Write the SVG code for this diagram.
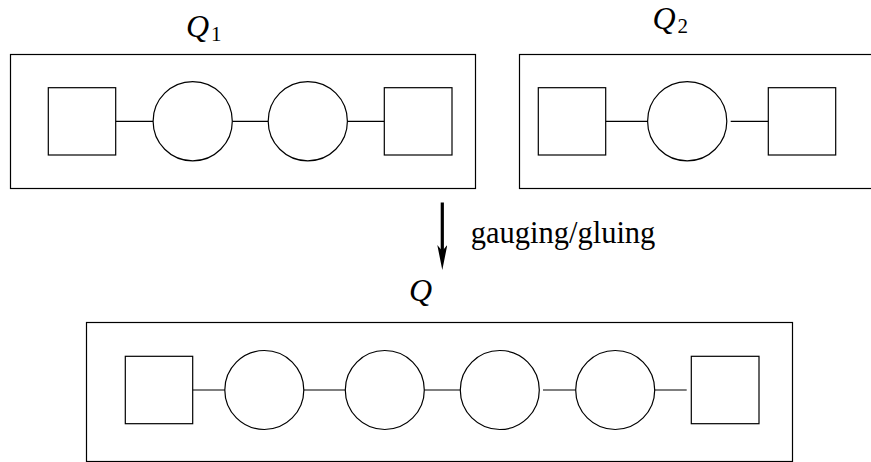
<svg xmlns="http://www.w3.org/2000/svg" width="871" height="462" viewBox="0 0 871 462">
<style>
.box{fill:none;stroke:#000;stroke-width:1.2}
.sq,.ci{fill:#fff;stroke:#000;stroke-width:1.2}
.ln{stroke:#000;stroke-width:1.2;fill:none}
.lbl{font-family:"Liberation Serif",serif;font-style:italic;font-size:32px;fill:#000}
.sub{font-family:"Liberation Serif",serif;font-style:normal;font-size:21px;fill:#000}
.txt{font-family:"Liberation Serif",serif;font-size:30.5px;fill:#000}
</style>
<defs>
<marker id="ah" markerUnits="userSpaceOnUse" markerWidth="25" markerHeight="10" viewBox="0 -5 25 10" refX="6" refY="0" orient="auto">
<path d="M0,-5 L25,0 L0,5 L6,0 Z" fill="#000"/>
</marker>
</defs>
<g id="connectors">
<line class="ln" x1="115.7" y1="121.3" x2="153" y2="121.3"/>
<line class="ln" x1="232.3" y1="121.3" x2="268.3" y2="121.3"/>
<line class="ln" x1="347.3" y1="121.3" x2="384.3" y2="121.3"/>
<line class="ln" x1="605.7" y1="121.3" x2="647.7" y2="121.3"/>
<line class="ln" x1="730.7" y1="121.3" x2="768.3" y2="121.3"/>
<line class="ln" x1="192.7" y1="390" x2="225" y2="390"/>
<line class="ln" x1="303.7" y1="390" x2="345.3" y2="390"/>
<line class="ln" x1="424.3" y1="390" x2="460.3" y2="390"/>
<line class="ln" x1="543" y1="390" x2="575.7" y2="390"/>
<line class="ln" x1="654.7" y1="390" x2="686.7" y2="390"/>
<line x1="442.3" y1="202.5" x2="442.3" y2="251" stroke="#000" stroke-width="3.2" marker-end="url(#ah)"/>
</g>
<g id="Q1">
<rect class="box" x="10.5" y="54.5" width="465" height="134"/>
<text class="lbl" x="186" y="37">Q<tspan class="sub" dx="2" dy="4">1</tspan></text>
<rect class="sq" x="48.3" y="87.7" width="67.4" height="67.3"/>
<circle class="ci" cx="192.7" cy="121.2" r="39.6"/>
<circle class="ci" cx="307.8" cy="121.2" r="39.6"/>
<rect class="sq" x="384.3" y="87.7" width="67.7" height="67.3"/>
</g>
<g id="Q2">
<rect class="box" x="519.5" y="54.5" width="360" height="134"/>
<text class="lbl" x="652.5" y="29">Q<tspan class="sub" dx="2" dy="4">2</tspan></text>
<rect class="sq" x="538.3" y="87.7" width="67.4" height="67.3"/>
<circle class="ci" cx="687.2" cy="121.2" r="39.6"/>
<rect class="sq" x="768.3" y="87.7" width="67.4" height="67.3"/>
</g>
<g id="label-gauging">
<text class="txt" x="470.7" y="242.7">gauging/gluing</text>
</g>
<g id="Q">
<rect class="box" x="86.5" y="322.5" width="706" height="139"/>
<text class="lbl" x="409" y="301">Q</text>
<rect class="sq" x="125.3" y="356.3" width="67.4" height="67.4"/>
<circle class="ci" cx="264.3" cy="390" r="39.5"/>
<circle class="ci" cx="384.8" cy="390" r="39.5"/>
<circle class="ci" cx="499.8" cy="390" r="39.5"/>
<circle class="ci" cx="615.2" cy="390" r="39.5"/>
<rect class="sq" x="691.3" y="356.3" width="67.7" height="67.4"/>
</g>
</svg>
